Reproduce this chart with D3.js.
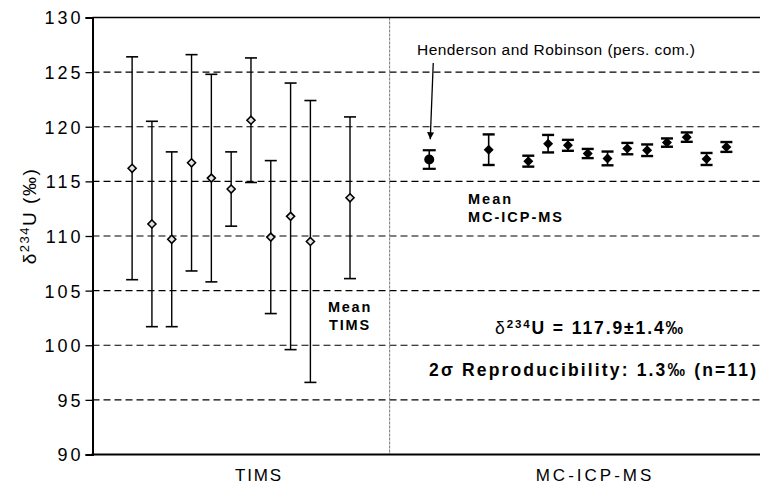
<!DOCTYPE html>
<html><head><meta charset="utf-8">
<script src="https://cdn.jsdelivr.net/npm/d3@7"></script>
<style>
  body { margin: 0; background: #fff; }
  svg { display: block; }
  text { font-family: "Liberation Sans", Arial, Helvetica, sans-serif; fill: #000; }
</style>
</head><body>
<svg id="chart" width="760" height="484"></svg>
<script>
// ---- data -------------------------------------------------------------
// TIMS analyses (position along the run, δ234U in ‰, 2σ error)
const timsIdx = [1, 2, 3, 4, 5, 6, 7, 8, 9, 10];
const timsVal = [116.2, 111.1, 109.7, 116.7, 115.3, 114.3, 120.6, 109.9, 111.8, 109.5];
const timsErr = [10.2, 9.4, 8.0, 9.9, 9.5, 3.4, 5.7, 7.0, 12.2, 12.9];

// mean of the TIMS analyses
const timsMeanIdx = [12];
const timsMeanVal = [113.5];
const timsMeanErr = [7.4];

// Henderson and Robinson (pers. com.) reference value
const hrIdx = [16];
const hrVal = [117.0];
const hrErr = [0.85];

// mean of the MC-ICP-MS analyses
const mcMeanIdx = [19];
const mcMeanVal = [117.9];
const mcMeanErr = [1.4];

// MC-ICP-MS analyses (n = 11)
const mcIdx = [21, 22, 23, 24, 25, 26, 27, 28, 29, 30, 31];
const mcVal = [116.85, 118.45, 118.3, 117.55, 117.1, 118.0, 117.85, 118.55, 119.05, 117.05, 118.15];
const mcErr = [0.5, 0.8, 0.5, 0.42, 0.63, 0.52, 0.53, 0.38, 0.43, 0.55, 0.45];

const yTicks = [90, 95, 100, 105, 110, 115, 120, 125, 130];
const gridValues = [95, 100, 105, 110, 115, 120, 125];
const splitIdx = 14;                 // boundary between the two methods
const groupLabels = ["TIMS", "MC-ICP-MS"];

// ---- layout -----------------------------------------------------------
const svg = d3.select("#chart");
const plotLeft = 92.5, plotTop = 17.5, plotBottom = 454.5, plotRight = 766;

const x = d3.scaleLinear().domain([-1, 33]).range([plotLeft, plotRight]);
const y = d3.scaleLinear().domain([90, 130]).range([plotBottom, plotTop]);

// dashed horizontal gridlines
svg.append("g").selectAll("line").data(gridValues).join("line")
  .attr("x1", plotLeft).attr("x2", 760)
  .attr("y1", d => y(d)).attr("y2", d => y(d))
  .attr("stroke", "#000").attr("stroke-width", 1.2)
  .attr("stroke-dasharray", "7,4");

// divider between TIMS and MC-ICP-MS
svg.append("line")
  .attr("x1", x(splitIdx)).attr("x2", x(splitIdx))
  .attr("y1", plotTop).attr("y2", plotBottom)
  .attr("stroke", "#777").attr("stroke-width", 1)
  .attr("stroke-dasharray", "3,1");

// frame
svg.append("line").attr("x1", plotLeft).attr("x2", 760).attr("y1", plotTop).attr("y2", plotTop)
  .attr("stroke", "#000").attr("stroke-width", 1.6);
svg.append("line").attr("x1", plotLeft - 1).attr("x2", 760).attr("y1", plotBottom).attr("y2", plotBottom)
  .attr("stroke", "#000").attr("stroke-width", 2);

// y axis
const yAxis = svg.append("g")
  .attr("transform", `translate(${plotLeft},0)`)
  .call(d3.axisLeft(y).tickValues(yTicks).tickSize(7).tickPadding(2).tickFormat(d3.format("d")));
yAxis.select(".domain").attr("stroke", "#000").attr("stroke-width", 2);
yAxis.selectAll(".tick line").attr("stroke", "#000").attr("stroke-width", 1.3);
yAxis.selectAll(".tick text")
  .style("font-family", '"Liberation Sans", Arial, sans-serif')
  .style("font-size", "18px")
  .style("letter-spacing", "3px")
  .attr("fill", "#000")
  .attr("dy", "0.36em");

// y axis title
svg.append("text")
  .attr("transform", "translate(36,216) rotate(-90)")
  .attr("text-anchor", "middle")
  .style("font-size", "19px")
  .style("letter-spacing", "1.5px")
  .html('δ<tspan dy="-7" font-size="13">234</tspan><tspan dy="7">U (‰)</tspan>');

// group labels under the axis
svg.append("text").attr("x", 259).attr("y", 481).attr("text-anchor", "middle")
  .style("font-size", "17px").style("letter-spacing", "1.8px").text(groupLabels[0]);
svg.append("text").attr("x", 595).attr("y", 481).attr("text-anchor", "middle")
  .style("font-size", "17px").style("letter-spacing", "3px").text(groupLabels[1]);

// ---- error bars -------------------------------------------------------
function errorBars(idx, val, err, opts) {
  const g = svg.append("g");
  const rows = idx.map((d, i) => ({ i: d, v: val[i], e: err[i] }));
  g.selectAll("line.v").data(rows).join("line").attr("class", "v")
    .attr("x1", d => x(d.i)).attr("x2", d => x(d.i))
    .attr("y1", d => y(d.v - d.e)).attr("y2", d => y(d.v + d.e))
    .attr("stroke", "#000").attr("stroke-width", opts.stem);
  ["lo", "hi"].forEach(k => {
    g.selectAll("line." + k).data(rows).join("line").attr("class", k)
      .attr("x1", d => x(d.i) - opts.cap).attr("x2", d => x(d.i) + opts.cap)
      .attr("y1", d => y(k === "lo" ? d.v - d.e : d.v + d.e))
      .attr("y2", d => y(k === "lo" ? d.v - d.e : d.v + d.e))
      .attr("stroke", "#000").attr("stroke-width", opts.capW);
  });
  return rows;
}

const diamond = r => `M0,${-r}L${r},0L0,${r}L${-r},0Z`;

// TIMS: open diamonds
const timsRows = errorBars(timsIdx.concat(timsMeanIdx), timsVal.concat(timsMeanVal),
  timsErr.concat(timsMeanErr), { stem: 1.4, cap: 6, capW: 1.6 });
svg.append("g").selectAll("path").data(timsRows).join("path")
  .attr("transform", d => `translate(${x(d.i)},${y(d.v)})`)
  .attr("d", diamond(4))
  .attr("fill", "#e4e4e4").attr("stroke", "#000").attr("stroke-width", 1.6);

// Henderson and Robinson: filled circle
const hrRows = errorBars(hrIdx, hrVal, hrErr, { stem: 1.6, cap: 6.5, capW: 2.2 });
svg.append("g").selectAll("circle").data(hrRows).join("circle")
  .attr("cx", d => x(d.i)).attr("cy", d => y(d.v)).attr("r", 5)
  .attr("fill", "#000");

// MC-ICP-MS: filled diamonds
const mcRows = errorBars(mcMeanIdx.concat(mcIdx), mcMeanVal.concat(mcVal),
  mcMeanErr.concat(mcErr), { stem: 1.6, cap: 6, capW: 2.4 });
svg.append("g").selectAll("path").data(mcRows).join("path")
  .attr("transform", d => `translate(${x(d.i)},${y(d.v)})`)
  .attr("d", diamond(5))
  .attr("fill", "#000");

// ---- annotations ------------------------------------------------------
svg.append("text").attr("x", 417).attr("y", 55)
  .style("font-size", "15.5px").attr("textLength", 278).attr("lengthAdjust", "spacing")
  .text("Henderson and Robinson (pers. com.)");

// arrow pointing at the reference value
const hx = x(hrIdx[0]);
svg.append("defs").append("marker")
  .attr("id", "head").attr("viewBox", "0 0 10 10")
  .attr("refX", 10).attr("refY", 5)
  .attr("markerWidth", 10).attr("markerHeight", 7)
  .attr("markerUnits", "userSpaceOnUse").attr("orient", "auto")
  .append("path").attr("d", "M0,0L10,5L0,10Z").attr("fill", "#000");
svg.append("line")
  .attr("x1", hx + 4).attr("y1", 63)
  .attr("x2", hx + 1).attr("y2", y(hrVal[0] + hrErr[0]) - 11)
  .attr("stroke", "#000").attr("stroke-width", 1.3)
  .attr("marker-end", "url(#head)");

const bold = sel => sel.style("font-weight", "bold");

svg.append("text").attr("x", x(timsMeanIdx[0])).attr("y", 312).attr("text-anchor", "middle")
  .call(bold).style("font-size", "14.5px").style("letter-spacing", "1.8px").text("Mean");
svg.append("text").attr("x", x(timsMeanIdx[0])).attr("y", 330).attr("text-anchor", "middle")
  .call(bold).style("font-size", "14.5px").style("letter-spacing", "1.8px").text("TIMS");

svg.append("text").attr("x", 468).attr("y", 204)
  .call(bold).style("font-size", "14.5px").style("letter-spacing", "2px").text("Mean");
svg.append("text").attr("x", 468).attr("y", 222)
  .call(bold).style("font-size", "14.5px").attr("textLength", 94).attr("lengthAdjust", "spacing")
  .text("MC-ICP-MS");

svg.append("text").attr("x", 495).attr("y", 334)
  .call(bold).style("font-size", "17.5px").style("letter-spacing", "1.9px")
  .html(`<tspan font-weight="normal">δ</tspan><tspan dy="-6" font-size="11.5">234</tspan><tspan dy="6">U = ${mcMeanVal[0].toFixed(1)}±${mcMeanErr[0].toFixed(1)}‰</tspan>`);

svg.append("text").attr("x", 429).attr("y", 376)
  .call(bold).style("font-size", "17.5px").attr("textLength", 327).attr("lengthAdjust", "spacing")
  .text(`2σ Reproducibility: 1.3‰ (n=${mcIdx.length})`);
</script>
</body></html>
